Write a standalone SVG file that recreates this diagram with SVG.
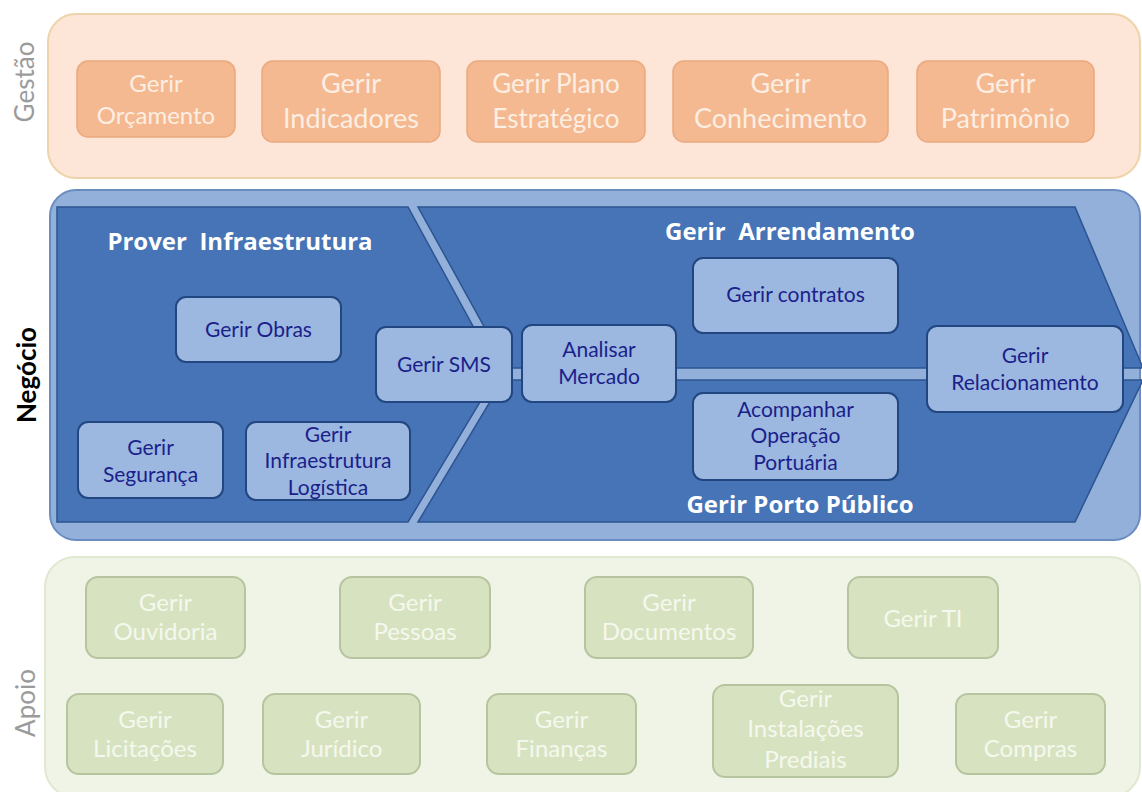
<svg xmlns="http://www.w3.org/2000/svg" width="1142" height="792" viewBox="0 0 1142 792">
<style>
text{font-family:Lato,"Open Sans","Liberation Sans",sans-serif;text-anchor:middle}
.band-g{fill:#fde6d8;stroke:#efd3ab;stroke-width:2}
.band-n{fill:#93b0da;stroke:#6b8cc0;stroke-width:2}
.band-a{fill:#eff4e6;stroke:#e0e8d0;stroke-width:2}
.side{font-size:26px;fill:#9b9b9b}
.side-b{font-size:26px;fill:#000;font-weight:bold}
.ob{fill:#f4b990;stroke:#eaa97f;stroke-width:1.5}
.ot{font-size:27px;fill:#fdeee3}
.chev{fill:#4674b6;stroke:#2c5491;stroke-width:1.5}
.title{font-family:"Open Sans",Lato,"Liberation Sans",sans-serif;font-size:24px;font-weight:bold;fill:#ffffff}
.bb{fill:#9cb7e0;stroke:#22467f;stroke-width:2}
.bt{font-size:21px;fill:#1b1f8a}
.gb{fill:#d7e3c0;stroke:#b6c59f;stroke-width:2}
.gt{font-size:24px;fill:#f5f8ee}
</style>
<rect width="1142" height="792" fill="#ffffff"/>

<!-- Gestão band -->
<g id="band-gestao">
<rect class="band-g" x="48" y="14" width="1092" height="164" rx="28"/>
<text class="side" transform="translate(34,82) rotate(-90)">Gestão</text>
</g>
<g id="gerir-orcamento">
<rect class="ob" x="77" y="61" width="158" height="76" rx="11"/>
<text class="ot" x="156" y="92" style="font-size:24px">Gerir</text>
<text class="ot" x="156" y="124" style="font-size:24px">Orçamento</text>
</g>
<g id="gerir-indicadores">
<rect class="ob" x="262" y="61" width="178" height="81" rx="11"/>
<text class="ot" x="351" y="93">Gerir</text>
<text class="ot" x="351" y="128">Indicadores</text>
</g>
<g id="gerir-plano">
<rect class="ob" x="467" y="61" width="178" height="81" rx="11"/>
<text class="ot" x="556" y="93" style="font-size:26px">Gerir Plano</text>
<text class="ot" x="556" y="128" style="font-size:26px">Estratégico</text>
</g>
<g id="gerir-conhecimento">
<rect class="ob" x="673" y="61" width="215" height="81" rx="11"/>
<text class="ot" x="780.5" y="93">Gerir</text>
<text class="ot" x="780.5" y="128">Conhecimento</text>
</g>
<g id="gerir-patrimonio">
<rect class="ob" x="917" y="61" width="177" height="81" rx="11"/>
<text class="ot" x="1005.5" y="93">Gerir</text>
<text class="ot" x="1005.5" y="128">Patrimônio</text>
</g>

<!-- Negócio band -->
<g id="band-negocio">
<rect class="band-n" x="50" y="190" width="1090" height="350" rx="26"/>
<text class="side-b" transform="translate(36,375) rotate(-90)">Negócio</text>
</g>
<g id="prover-infraestrutura">
<polygon class="chev" points="57,207 408,207 498,372 408,522 57,522"/>
<text class="title" x="240" y="250" xml:space="preserve">Prover  Infraestrutura</text>
</g>
<g id="gerir-arrendamento">
<polygon class="chev" points="418,207 1075,207 1143,368 507,368"/>
<text class="title" x="790" y="240" xml:space="preserve">Gerir  Arrendamento</text>
</g>
<g id="gerir-porto-publico">
<polygon class="chev" points="503,380 1143,380 1075,522 418,522"/>
<text class="title" x="800" y="513">Gerir Porto Público</text>
</g>
<g id="connectors"></g>

<g id="gerir-obras">
<rect class="bb" x="176" y="297" width="165" height="65" rx="10"/>
<text class="bt" x="258.5" y="337">Gerir Obras</text>
</g>
<g id="gerir-sms">
<rect class="bb" x="376" y="327" width="136" height="75" rx="10"/>
<text class="bt" x="444" y="372">Gerir SMS</text>
</g>
<g id="gerir-seguranca">
<rect class="bb" x="78" y="422" width="145" height="76" rx="10"/>
<text class="bt" x="150.5" y="455">Gerir</text>
<text class="bt" x="150.5" y="482">Segurança</text>
</g>
<g id="gerir-infraestrutura-logistica">
<rect class="bb" x="246" y="422" width="164" height="78" rx="10"/>
<text class="bt" x="328" y="442">Gerir</text>
<text class="bt" x="328" y="468">Infraestrutura</text>
<text class="bt" x="328" y="495">Logística</text>
</g>
<g id="analisar-mercado">
<rect class="bb" x="522" y="325" width="154" height="77" rx="10"/>
<text class="bt" x="599" y="357">Analisar</text>
<text class="bt" x="599" y="384">Mercado</text>
</g>
<g id="gerir-contratos">
<rect class="bb" x="693" y="258" width="205" height="75" rx="10"/>
<text class="bt" x="795.5" y="302">Gerir contratos</text>
</g>
<g id="acompanhar-operacao-portuaria">
<rect class="bb" x="693" y="393" width="205" height="87" rx="10"/>
<text class="bt" x="795.5" y="417">Acompanhar</text>
<text class="bt" x="795.5" y="443">Operação</text>
<text class="bt" x="795.5" y="470">Portuária</text>
</g>
<g id="gerir-relacionamento">
<rect class="bb" x="927" y="326" width="196" height="86" rx="10"/>
<text class="bt" x="1025" y="363">Gerir</text>
<text class="bt" x="1025" y="390">Relacionamento</text>
</g>

<!-- Apoio band -->
<g id="band-apoio">
<rect class="band-a" x="45" y="557" width="1095" height="240" rx="30"/>
<text class="side" transform="translate(35,703) rotate(-90)">Apoio</text>
</g>
<g id="gerir-ouvidoria">
<rect class="gb" x="86" y="577" width="159" height="81" rx="12"/>
<text class="gt" x="165.5" y="611">Gerir</text>
<text class="gt" x="165.5" y="640">Ouvidoria</text>
</g>
<g id="gerir-pessoas">
<rect class="gb" x="340" y="577" width="150" height="81" rx="12"/>
<text class="gt" x="415" y="611">Gerir</text>
<text class="gt" x="415" y="640">Pessoas</text>
</g>
<g id="gerir-documentos">
<rect class="gb" x="585" y="577" width="168" height="81" rx="12"/>
<text class="gt" x="669" y="611">Gerir</text>
<text class="gt" x="669" y="640">Documentos</text>
</g>
<g id="gerir-ti">
<rect class="gb" x="848" y="577" width="150" height="81" rx="12"/>
<text class="gt" x="923" y="627">Gerir TI</text>
</g>
<g id="gerir-licitacoes">
<rect class="gb" x="67" y="694" width="156" height="80" rx="12"/>
<text class="gt" x="145" y="728">Gerir</text>
<text class="gt" x="145" y="757">Licitações</text>
</g>
<g id="gerir-juridico">
<rect class="gb" x="263" y="694" width="157" height="80" rx="12"/>
<text class="gt" x="341.5" y="728">Gerir</text>
<text class="gt" x="341.5" y="757">Jurídico</text>
</g>
<g id="gerir-financas">
<rect class="gb" x="487" y="694" width="149" height="80" rx="12"/>
<text class="gt" x="561.5" y="728">Gerir</text>
<text class="gt" x="561.5" y="757">Finanças</text>
</g>
<g id="gerir-instalacoes-prediais">
<rect class="gb" x="713" y="685" width="185" height="92" rx="12"/>
<text class="gt" x="805.5" y="707">Gerir</text>
<text class="gt" x="805.5" y="737">Instalações</text>
<text class="gt" x="805.5" y="768">Prediais</text>
</g>
<g id="gerir-compras">
<rect class="gb" x="956" y="694" width="149" height="80" rx="12"/>
<text class="gt" x="1030.5" y="728">Gerir</text>
<text class="gt" x="1030.5" y="757">Compras</text>
</g>
</svg>
